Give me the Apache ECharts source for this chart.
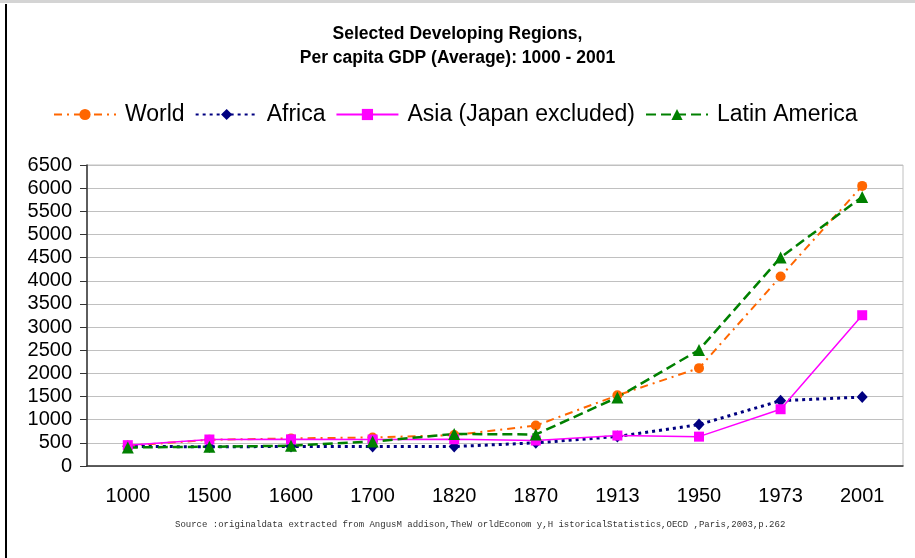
<!DOCTYPE html>
<html>
<head>
<meta charset="utf-8">
<title>Selected Developing Regions</title>
<script src="https://cdn.jsdelivr.net/npm/echarts@6/dist/echarts.min.js"></script>
<style>
html, body { margin: 0; padding: 0; background: #fff; }
#chart { width: 915px; height: 558px; }
</style>
</head>
<body>
<div id="chart"></div>
<script>
// years on the x axis
var years = ['1000', '1500', '1600', '1700', '1820', '1870', '1913', '1950', '1973', '2001']
// per capita GDP
var world = [436, 566, 596, 616, 667, 873, 1526, 2113, 4091, 6049]
var africa = [425, 414, 422, 421, 420, 500, 637, 894, 1410, 1489]
var asia = [450, 572, 575, 571, 577, 550, 658, 634, 1226, 3256]
var latinAmerica = [400, 416, 438, 527, 692, 681, 1481, 2506, 4504, 5811]

var font = 'Liberation Sans, Arial, sans-serif'
var myChart = echarts.init(document.getElementById('chart'))

var option = {
  animation: false,
  backgroundColor: '#fff',
  title: {
    text: 'Selected Developing Regions,\nPer capita GDP (Average): 1000 - 2001',
    left: 'center',
    top: 17,
    textStyle: {
      fontFamily: font,
      fontSize: 17.5,
      fontWeight: 'bold',
      color: '#000',
      lineHeight: 24
    }
  },
  legend: {
    left: 48,
    top: 98,
    itemWidth: 62,
    itemHeight: 14,
    itemGap: 10,
    textStyle: {
      fontFamily: font,
      fontSize: 23,
      color: '#000',
      padding: [0, 0, 0, 4]
    },
    data: ['World', 'Africa', 'Asia (Japan excluded)', 'Latin America']
  },
  grid: {
    left: 87,
    right: 12,
    top: 165,
    bottom: 92,
    show: true,
    borderColor: '#c0c0c0',
    borderWidth: 1
  },
  xAxis: {
    type: 'category',
    data: years,
    boundaryGap: true,
    axisLine: { lineStyle: { color: '#333', width: 1.5 } },
    axisTick: { length: 6, lineStyle: { color: '#333' } },
    axisLabel: { margin: 20, fontFamily: font, fontSize: 20, color: '#000' }
  },
  yAxis: {
    type: 'value',
    min: 0,
    max: 6500,
    interval: 500,
    axisLine: { show: true, lineStyle: { color: '#333', width: 1.5 } },
    axisTick: { show: true, length: 7, lineStyle: { color: '#333' } },
    axisLabel: {
      margin: 15,
      fontFamily: font,
      fontSize: 20,
      color: '#000',
      formatter: function (v) { return String(v) }
    },
    splitLine: { lineStyle: { color: '#c0c0c0', width: 1 } }
  },
  graphic: [
    // source note
    {
      type: 'text',
      left: 175,
      top: 520,
      style: {
        text: 'Source :originaldata extracted from AngusM addison,TheW orldEconom y,H istoricalStatistics,OECD ,Paris,2003,p.262',
        font: '9px "Liberation Mono", monospace',
        fill: '#333'
      }
    },
    // frame of the picture
    {
      type: 'line',
      shape: { x1: 6, y1: 4, x2: 6, y2: 558 },
      style: { stroke: '#000', lineWidth: 2 }
    },
    {
      type: 'line',
      shape: { x1: 0, y1: 1.5, x2: 915, y2: 1.5 },
      style: { stroke: '#d4d4d4', lineWidth: 3 }
    }
  ],
  series: [
    {
      name: 'World',
      type: 'line',
      data: world,
      symbol: 'circle',
      symbolSize: 10,
      color: '#FF6600',
      lineStyle: { width: 2, type: [8, 5, 2, 5] }
    },
    {
      name: 'Africa',
      type: 'line',
      data: africa,
      symbol: 'diamond',
      symbolSize: [11, 12],
      color: '#000080',
      lineStyle: { width: 3, type: [3, 4] }
    },
    {
      name: 'Asia (Japan excluded)',
      type: 'line',
      data: asia,
      symbol: 'rect',
      symbolSize: 10,
      color: '#FF00FF',
      lineStyle: { width: 1.5, type: 'solid' }
    },
    {
      name: 'Latin America',
      type: 'line',
      data: latinAmerica,
      symbol: 'triangle',
      symbolSize: 12,
      color: '#008000',
      lineStyle: { width: 2.5, type: [10, 5] }
    }
  ]
}
myChart.setOption(option, true)
</script>
</body>
</html>
